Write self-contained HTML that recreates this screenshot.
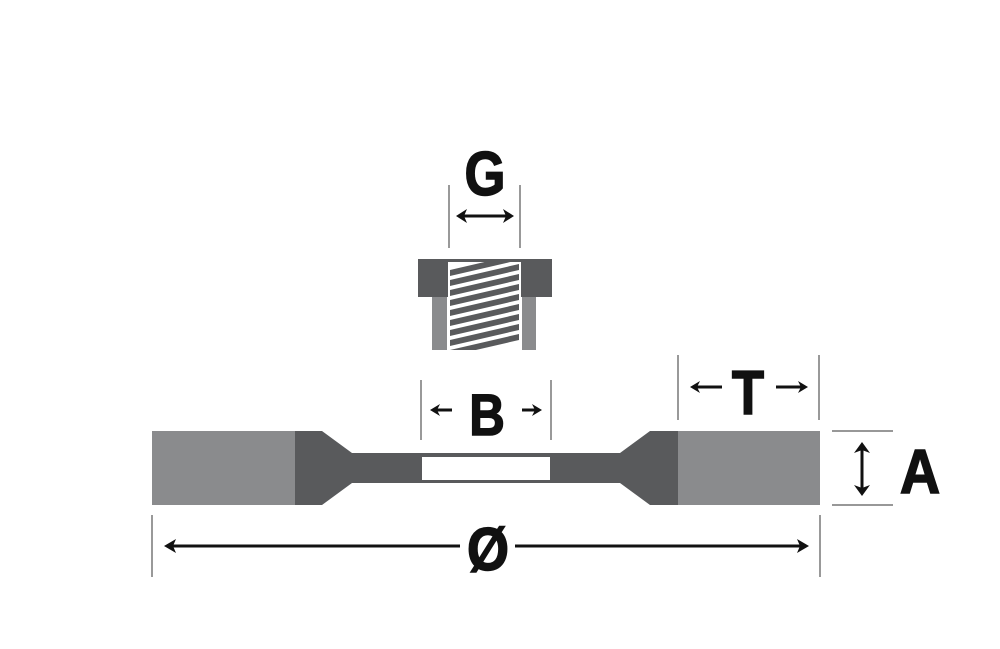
<!DOCTYPE html>
<html><head><style>
html,body{margin:0;padding:0;background:#fff;}
svg{display:block}
text{font-family:"Liberation Sans Narrow","Liberation Sans",sans-serif;font-weight:bold;fill:#111;stroke:#111;stroke-width:1.5;}
</style></head><body>
<svg width="1000" height="649" viewBox="0 0 1000 649" xmlns="http://www.w3.org/2000/svg">
<defs>
<clipPath id="th"><rect x="448" y="262" width="73" height="88"/></clipPath>
</defs>
<!-- G -->
<text x="485" y="195" font-size="62" text-anchor="middle" transform="translate(485 0) scale(0.85 1) translate(-485 0)">G</text>
<line x1="449" y1="185" x2="449" y2="248" stroke="#777" stroke-width="1.5"/>
<line x1="520" y1="185" x2="520" y2="248" stroke="#777" stroke-width="1.5"/>
<line x1="462" y1="216" x2="508" y2="216" stroke="#111" stroke-width="3"/>
<path d="M456,216 l11,-7 l-3,7 l3,7 z M514,216 l-11,-7 l3,7 l-3,7 z" fill="#111"/>
<!-- bushing -->
<rect x="418" y="259" width="134" height="38" fill="#595a5c"/>
<rect x="432" y="297" width="15" height="53" fill="#8a8b8d"/>
<rect x="522" y="297" width="14" height="53" fill="#8a8b8d"/>
<rect x="448" y="262" width="73" height="88" fill="#fff"/>
<g clip-path="url(#th)" fill="#595a5c">
<polygon points="450,270 519,254 519,260 450,276"/>
<polygon points="450,280 519,264 519,270 450,286"/>
<polygon points="450,290 519,274 519,280 450,296"/>
<polygon points="450,300 519,284 519,290 450,306"/>
<polygon points="450,310 519,294 519,300 450,316"/>
<polygon points="450,320 519,304 519,310 450,326"/>
<polygon points="450,330 519,314 519,320 450,336"/>
<polygon points="450,340 519,324 519,330 450,346"/>
<polygon points="450,350 519,334 519,340 450,356"/>
</g>
<!-- B -->
<line x1="421" y1="380" x2="421" y2="440" stroke="#777" stroke-width="1.5"/>
<line x1="551" y1="380" x2="551" y2="440" stroke="#777" stroke-width="1.5"/>
<text x="487" y="435" font-size="58" text-anchor="middle" transform="translate(487 0) scale(0.85 1) translate(-487 0)">B</text>
<path d="M430,410 l10,-6 l-3,6 l3,6 z" fill="#111"/><line x1="436" y1="410" x2="452" y2="410" stroke="#111" stroke-width="3"/>
<path d="M542,410 l-10,-6 l3,6 l-3,6 z" fill="#111"/><line x1="522" y1="410" x2="536" y2="410" stroke="#111" stroke-width="3"/>
<!-- T -->
<line x1="678" y1="355" x2="678" y2="420" stroke="#777" stroke-width="1.5"/>
<line x1="819" y1="355" x2="819" y2="420" stroke="#777" stroke-width="1.5"/>
<text x="748" y="414" font-size="62" text-anchor="middle" transform="translate(748 0) scale(0.85 1) translate(-748 0)">T</text>
<path d="M690,387 l10,-6 l-3,6 l3,6 z" fill="#111"/><line x1="696" y1="387" x2="722" y2="387" stroke="#111" stroke-width="3"/>
<path d="M808,387 l-10,-6 l3,6 l-3,6 z" fill="#111"/><line x1="776" y1="387" x2="802" y2="387" stroke="#111" stroke-width="3"/>
<!-- wheel -->
<rect x="152" y="431" width="144" height="74" fill="#8a8b8d"/>
<polygon points="295,431 322,431 352,453 420,453 420,483 352,483 322,505 295,505" fill="#595a5c"/>
<polygon points="678,431 650,431 620,453 552,453 552,483 620,483 650,505 678,505" fill="#595a5c"/>
<rect x="678" y="431" width="142" height="74" fill="#8a8b8d"/>
<rect x="419" y="453" width="134" height="30" fill="#595a5c"/>
<rect x="422" y="457" width="128" height="23" fill="#fff"/>
<!-- A -->
<line x1="832" y1="431" x2="893" y2="431" stroke="#777" stroke-width="1.5"/>
<line x1="832" y1="505" x2="893" y2="505" stroke="#777" stroke-width="1.5"/>
<line x1="862" y1="448" x2="862" y2="490" stroke="#111" stroke-width="3"/>
<path d="M862,442 l-8,11 l8,-3 l8,3 z M862,496 l-8,-11 l8,3 l8,-3 z" fill="#111"/>
<text x="920" y="493" font-size="62" text-anchor="middle" transform="translate(920 0) scale(0.9 1) translate(-920 0)">A</text>
<!-- diameter -->
<line x1="152" y1="515" x2="152" y2="577" stroke="#777" stroke-width="1.5"/>
<line x1="820" y1="515" x2="820" y2="577" stroke="#777" stroke-width="1.5"/>
<path d="M164,546 l12,-7 l-3,7 l3,7 z" fill="#111"/><line x1="170" y1="546" x2="460" y2="546" stroke="#111" stroke-width="3"/>
<path d="M809,546 l-12,-7 l3,7 l-3,7 z" fill="#111"/><line x1="515" y1="546" x2="803" y2="546" stroke="#111" stroke-width="3"/>
<text x="488" y="570" font-size="60" text-anchor="middle" transform="translate(488 0) scale(0.9 1) translate(-488 0)">Ø</text>
</svg>
</body></html>
